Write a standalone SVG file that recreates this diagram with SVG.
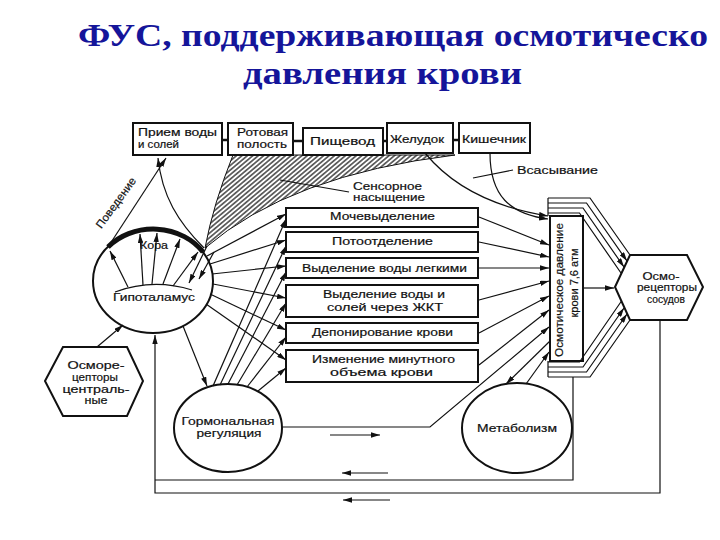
<svg xmlns="http://www.w3.org/2000/svg" width="720" height="540" viewBox="0 0 720 540">
<style>
.t{font-family:"Liberation Sans",Arial,sans-serif;font-size:11px;fill:#111;stroke:#111;stroke-width:0.2}
.box{fill:#fff;stroke:#111;stroke-width:2}
.ln{fill:none;stroke:#111;stroke-width:1.2}
.thk{fill:none;stroke:#111;stroke-width:2.5}
.ttl{font-family:"Liberation Serif","DejaVu Serif",serif;font-weight:bold;font-size:31px;fill:#15159a}
</style>
<defs>
<marker id="a" viewBox="0 0 10 6" refX="10" refY="3" markerWidth="9" markerHeight="5.4" markerUnits="userSpaceOnUse" orient="auto"><path d="M0,0 L10,3 L0,6 z" fill="#111"/></marker>
<pattern id="hatch" width="3.5" height="3.5" patternUnits="userSpaceOnUse" patternTransform="rotate(-40)"><line x1="0" y1="1.75" x2="3.5" y2="1.75" stroke="#111" stroke-width="1.2"/></pattern>
</defs>
<rect width="720" height="540" fill="#fff"/>

<g id="title">
<text class="ttl" x="78" y="46" textLength="630" lengthAdjust="spacingAndGlyphs">ФУС, поддерживающая осмотическо</text>
<text class="ttl" x="243" y="84" textLength="279" lengthAdjust="spacingAndGlyphs">давления крови</text>
</g>

<g id="sensory-saturation">
<path d="M233,155 L455,155 Q290,175 205,248 Q213,205 233,155 Z" fill="url(#hatch)" stroke="#111" stroke-width="1"/>
<text class="t" x="353" y="190" textLength="69" lengthAdjust="spacingAndGlyphs">Сенсорное</text>
<text class="t" x="353" y="201" textLength="72" lengthAdjust="spacingAndGlyphs">насыщение</text>
</g>

<g id="intake">
<rect class="box" x="133" y="123" width="89" height="32"/>
<text class="t" x="138" y="136" textLength="79" lengthAdjust="spacingAndGlyphs">Прием воды</text>
<text class="t" x="138" y="148" textLength="41" lengthAdjust="spacingAndGlyphs">и солей</text>
</g>
<g id="mouth">
<rect class="box" x="228" y="123" width="65" height="32"/>
<text class="t" x="237" y="136" textLength="51" lengthAdjust="spacingAndGlyphs">Ротовая</text>
<text class="t" x="237" y="148" textLength="50" lengthAdjust="spacingAndGlyphs">полость</text>
</g>
<g id="esophagus">
<rect class="box" x="303" y="128" width="80" height="27"/>
<text class="t" x="310" y="145" textLength="65" lengthAdjust="spacingAndGlyphs">Пищевод</text>
</g>
<g id="stomach">
<rect class="box" x="387" y="123" width="66" height="30"/>
<text class="t" x="390" y="143" textLength="54" lengthAdjust="spacingAndGlyphs">Желудок</text>
</g>
<g id="intestine">
<rect class="box" x="459" y="123" width="71" height="30"/>
<text class="t" x="462" y="143" textLength="64" lengthAdjust="spacingAndGlyphs">Кишечник</text>
</g>

<g id="absorption-label">
<text class="t" x="517" y="174" textLength="81" lengthAdjust="spacingAndGlyphs">Всасывание</text>
</g>

<g id="brain">
<ellipse cx="153" cy="281" rx="60" ry="52" fill="none" stroke="#111" stroke-width="2"/>
<path d="M108,247 A60,52 0 0,1 203,252" fill="none" stroke="#111" stroke-width="5"/>
<path d="M115,292 Q153,278 192,290" class="ln"/>
<text class="t" x="140" y="249" textLength="28" lengthAdjust="spacingAndGlyphs">Кора</text>
<text class="t" x="113" y="301" textLength="82" lengthAdjust="spacingAndGlyphs">Гипоталамус</text>
</g>

<g id="behaviour-label">
<text class="t" transform="translate(119,205) rotate(-54)" text-anchor="middle" textLength="60" lengthAdjust="spacingAndGlyphs">Поведение</text>
</g>

<g id="urination">
<rect class="box" x="286" y="208" width="192" height="19"/>
<text class="t" x="330" y="220" textLength="105" lengthAdjust="spacingAndGlyphs">Мочевыделение</text>
</g>
<g id="sweating">
<rect class="box" x="286" y="232" width="192" height="20"/>
<text class="t" x="332" y="245" textLength="101" lengthAdjust="spacingAndGlyphs">Потоотделение</text>
</g>
<g id="lungs">
<rect class="box" x="286" y="258" width="192" height="20"/>
<text class="t" x="302" y="272" textLength="165" lengthAdjust="spacingAndGlyphs">Выделение воды легкими</text>
</g>
<g id="gi">
<rect class="box" x="286" y="285" width="192" height="32"/>
<text class="t" x="323" y="298" textLength="122" lengthAdjust="spacingAndGlyphs">Выделение воды и</text>
<text class="t" x="327" y="311" textLength="116" lengthAdjust="spacingAndGlyphs">солей через ЖКТ</text>
</g>
<g id="depot">
<rect class="box" x="286" y="323" width="192" height="20"/>
<text class="t" x="312" y="336" textLength="141" lengthAdjust="spacingAndGlyphs">Депонирование крови</text>
</g>
<g id="cardiac">
<rect class="box" x="286" y="350" width="192" height="32"/>
<text class="t" x="312" y="363" textLength="143" lengthAdjust="spacingAndGlyphs">Изменение минутного</text>
<text class="t" x="330" y="376" textLength="103" lengthAdjust="spacingAndGlyphs">объема крови</text>
</g>

<g id="osmotic-pressure">
<rect class="box" x="550" y="216" width="33" height="145"/>
<text class="t" transform="translate(563,290) rotate(-90)" text-anchor="middle" textLength="134" lengthAdjust="spacingAndGlyphs">Осмотическое давление</text>
<text class="t" transform="translate(578,283) rotate(-90)" text-anchor="middle" textLength="69" lengthAdjust="spacingAndGlyphs">крови 7,6 атм</text>
</g>

<g id="vessel-receptors">
<polygon points="615,287 630,255 687,255 703,287 687,320 630,320" fill="#fff" stroke="#111" stroke-width="2"/>
<text class="t" x="661" y="280" text-anchor="middle" textLength="37" lengthAdjust="spacingAndGlyphs">Осмо-</text>
<text class="t" x="667" y="291" text-anchor="middle" textLength="60" lengthAdjust="spacingAndGlyphs">рецепторы</text>
<text class="t" x="666" y="303" text-anchor="middle" textLength="38" lengthAdjust="spacingAndGlyphs">сосудов</text>
</g>

<g id="central-receptors">
<polygon points="45,381 63,347 127,347 143,381 127,416 63,416" fill="#fff" stroke="#111" stroke-width="2"/>
<text class="t" x="96" y="369" text-anchor="middle" textLength="57" lengthAdjust="spacingAndGlyphs">Осморе-</text>
<text class="t" x="95" y="381" text-anchor="middle" textLength="46" lengthAdjust="spacingAndGlyphs">цепторы</text>
<text class="t" x="96" y="393" text-anchor="middle" textLength="67" lengthAdjust="spacingAndGlyphs">централь-</text>
<text class="t" x="96" y="404" text-anchor="middle" textLength="23" lengthAdjust="spacingAndGlyphs">ные</text>
</g>

<g id="hormonal">
<ellipse cx="228" cy="428" rx="54" ry="44" fill="#fff" stroke="#111" stroke-width="2"/>
<text class="t" x="228" y="425" text-anchor="middle" textLength="93" lengthAdjust="spacingAndGlyphs">Гормональная</text>
<text class="t" x="229" y="437" text-anchor="middle" textLength="65" lengthAdjust="spacingAndGlyphs">регуляция</text>
</g>

<g id="metabolism">
<ellipse cx="517" cy="428" rx="55" ry="45" fill="#fff" stroke="#111" stroke-width="2"/>
<text class="t" x="517" y="432" text-anchor="middle" textLength="80" lengthAdjust="spacingAndGlyphs">Метаболизм</text>
</g>

<g id="connectors">
<path class="thk" d="M222,140 H228"/>
<path class="thk" d="M293,141 H303"/>
<path class="thk" d="M383,141 H387"/>
<path class="thk" d="M453,140 H459"/>
<path class="ln" d="M280,180 L349,192"/>
<path class="ln" d="M473,178 L513,170"/>
<path class="ln" d="M108,247 L166,158" marker-end="url(#a)"/>
<path class="ln" d="M204,248 C178,222 162,196 158,158" marker-end="url(#a)"/>
<path class="ln" d="M128,287 L110,251" marker-end="url(#a)"/>
<path class="ln" d="M143,285 L140,234" marker-end="url(#a)"/>
<path class="ln" d="M152,284 L157,233" marker-end="url(#a)"/>
<path class="ln" d="M163,284 L180,239" marker-end="url(#a)"/>
<path class="ln" d="M173,286 L198,252" marker-end="url(#a)"/>
<path class="ln" d="M207,246 L189,283" marker-end="url(#a)"/>
<path class="ln" d="M214,252 L199,279" marker-end="url(#a)"/>
<path class="ln" d="M207,256 L286,214" marker-end="url(#a)"/>
<path class="ln" d="M210,264 L286,240" marker-end="url(#a)"/>
<path class="ln" d="M212,274 L286,266" marker-end="url(#a)"/>
<path class="ln" d="M213,284 L286,298" marker-end="url(#a)"/>
<path class="ln" d="M210,294 L286,330" marker-end="url(#a)"/>
<path class="ln" d="M206,304 L286,360" marker-end="url(#a)"/>
<path class="ln" d="M213,386 L286,219" marker-end="url(#a)"/>
<path class="ln" d="M220,385 L286,246" marker-end="url(#a)"/>
<path class="ln" d="M228,384 L286,272" marker-end="url(#a)"/>
<path class="ln" d="M237,385 L286,303" marker-end="url(#a)"/>
<path class="ln" d="M247,387 L286,337" marker-end="url(#a)"/>
<path class="ln" d="M258,391 L286,368" marker-end="url(#a)"/>
<path class="ln" d="M183,326 L207,386" marker-end="url(#a)"/>
<path class="ln" d="M97,347 L123,325" marker-end="url(#a)"/>
<path class="ln" d="M479,217 L549,245" marker-end="url(#a)"/>
<path class="ln" d="M479,242 L549,257" marker-end="url(#a)"/>
<path class="ln" d="M479,268 L549,268" marker-end="url(#a)"/>
<path class="ln" d="M479,300 L549,281" marker-end="url(#a)"/>
<path class="ln" d="M479,333 L549,296" marker-end="url(#a)"/>
<path class="ln" d="M479,365 L549,310" marker-end="url(#a)"/>
<path class="ln" d="M425,153 C452,186 492,207 548,216" marker-end="url(#a)"/>
<path class="ln" d="M490,153 C490,196 510,214 548,219" marker-end="url(#a)"/>
<path class="ln" d="M282,427 H430 L549,327" marker-end="url(#a)"/>
<path class="ln" d="M550,341 L506,384" marker-end="url(#a)"/>
<path class="ln" d="M526,384 L549,352" marker-end="url(#a)"/>
<path class="ln" d="M584,288 L614,288" marker-end="url(#a)"/>
<path class="ln" d="M548,198 V216"/>
<path class="ln" d="M548,198 H590 L630,255"/>
<path class="ln" d="M548,203 H586.5 L627,261" marker-end="url(#a)"/>
<path class="ln" d="M548,208 H583 L624,267" marker-end="url(#a)"/>
<path class="ln" d="M548,213 H579.5 L621,273"/>
<path class="ln" d="M548,361 V377"/>
<path class="ln" d="M548,362 H579.5 L621.5,301"/>
<path class="ln" d="M548,367 H583 L624,308" marker-end="url(#a)"/>
<path class="ln" d="M548,372 H586.5 L627,314" marker-end="url(#a)"/>
<path class="ln" d="M548,377 H590 L630,320"/>
<path class="ln" d="M660,320 V493 H155 V335" marker-end="url(#a)"/>
<path class="ln" d="M573,377 V480 H155"/>
<path class="ln" d="M330,435 H380" marker-end="url(#a)"/>
<path class="ln" d="M388,473 H342" marker-end="url(#a)"/>
<path class="ln" d="M390,500 H343" marker-end="url(#a)"/>
</g>
</svg>
